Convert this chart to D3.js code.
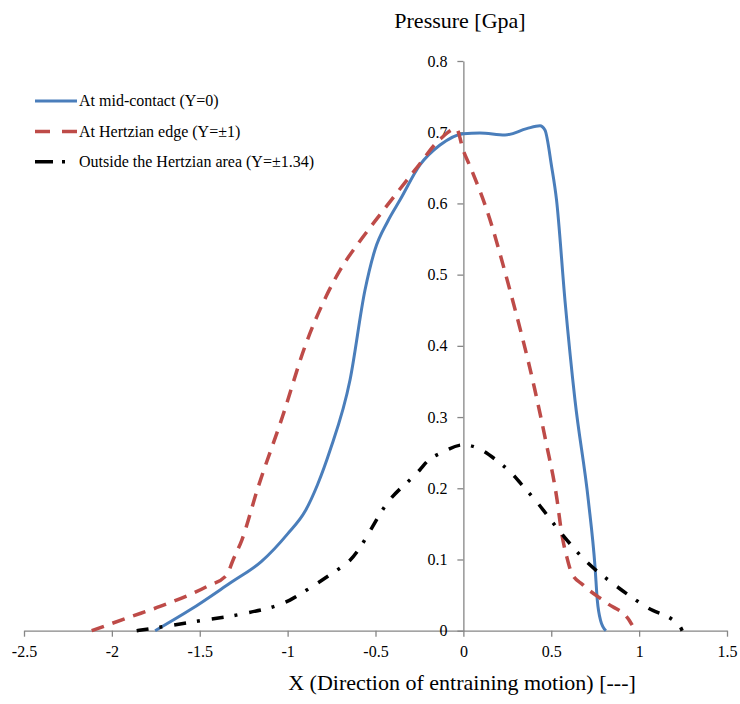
<!DOCTYPE html>
<html>
<head>
<meta charset="utf-8">
<script src="https://cdn.jsdelivr.net/npm/d3@7"></script>
<style>
  body { margin: 0; background: #fff; }
  text { font-family: "Liberation Serif", "Times New Roman", serif; }
</style>
</head>
<body>
<svg id="chart"></svg>
<script>
// X positions and pressure values
const midX = [-1.754, -1.55, -1.327, -1.15, -1.0, -0.9, -0.83, -0.759, -0.645, -0.56, -0.503, -0.43, -0.36, -0.247, -0.133, 0, 0.094, 0.237, 0.36, 0.436, 0.464, 0.502, 0.53, 0.578, 0.635, 0.711, 0.749, 0.762, 0.78, 0.811];
const midP = [0, 0.03, 0.067, 0.097, 0.136, 0.168, 0.205, 0.253, 0.352, 0.478, 0.535, 0.575, 0.605, 0.654, 0.682, 0.698, 0.699, 0.696, 0.705, 0.709, 0.703, 0.652, 0.605, 0.464, 0.324, 0.183, 0.09, 0.043, 0.015, 0];

const edgeX = [-2.115, -1.9, -1.726, -1.46, -1.347, -1.311, -1.261, -1.17, -1.03, -0.9, -0.78, -0.7, -0.58, -0.475, -0.275, -0.133, -0.04, 0, 0.038, 0.133, 0.265, 0.407, 0.47, 0.533, 0.559, 0.588, 0.616, 0.682, 0.815, 0.948, 0.96];
const edgeP = [0, 0.019, 0.034, 0.062, 0.078, 0.099, 0.127, 0.2, 0.3, 0.4, 0.47, 0.507, 0.55, 0.584, 0.647, 0.69, 0.705, 0.674, 0.652, 0.591, 0.478, 0.338, 0.265, 0.184, 0.137, 0.104, 0.081, 0.064, 0.039, 0.013, 0.008];

const outX = [-1.859, -1.7, -1.499, -1.271, -0.987, -0.873, -0.75, -0.645, -0.418, -0.247, -0.209, -0.116, 0, 0.094, 0.19, 0.271, 0.35, 0.417, 0.55, 0.692, 0.863, 1.043, 1.232, 1.245];
const outP = [0, 0.006, 0.014, 0.023, 0.043, 0.06, 0.08, 0.099, 0.184, 0.226, 0.237, 0.251, 0.261, 0.255, 0.239, 0.222, 0.2, 0.181, 0.139, 0.099, 0.064, 0.033, 0.006, 0];

const xTicks = [-2.5, -2, -1.5, -1, -0.5, 0, 0.5, 1, 1.5];
const yTicks = [0, 0.1, 0.2, 0.3, 0.4, 0.5, 0.6, 0.7, 0.8];

const seriesNames = ["At mid-contact (Y=0)", "At Hertzian edge (Y=\u00b11)", "Outside the Hertzian area (Y=\u00b11.34)"];

const width = 740, height = 704;
const svg = d3.select("#chart").attr("width", width).attr("height", height);

const x = d3.scaleLinear().domain([-2.5, 1.5]).range([24, 727]);
const y = d3.scaleLinear().domain([0, 0.8]).range([630.7, 61]);

// x axis along P = 0
const xAxis = svg.append("g")
  .attr("transform", `translate(0,${y(0)})`)
  .call(d3.axisBottom(x).tickValues(xTicks).tickSize(6).tickSizeOuter(0).tickPadding(9).tickFormat(d => String(d)));

// y axis through X = 0
const yAxis = svg.append("g")
  .attr("transform", `translate(${x(0)},0)`)
  .call(d3.axisLeft(y).tickValues(yTicks).tickSize(6).tickSizeOuter(0).tickPadding(10).tickFormat(d => String(d)));

[xAxis, yAxis].forEach(g => {
  g.attr("font-family", "'Liberation Serif', serif").attr("font-size", 16);
  g.selectAll("path, line").attr("stroke", "#868686").attr("stroke-width", 1.3);
  g.selectAll("text").attr("fill", "#000");
});

const line = d3.line()
  .x(d => x(d[0]))
  .y(d => y(d[1]))
  .curve(d3.curveMonotoneX);

const series = [
  { xs: midX, ps: midP, color: "#4a7ebb", width: 3, dash: null },
  { xs: edgeX, ps: edgeP, color: "#be4b48", width: 3.5, dash: "13,9" },
  { xs: outX, ps: outP, color: "#000", width: 3.5, dash: "12,11,3,12" }
];

series.forEach(s => {
  svg.append("path")
    .datum(d3.zip(s.xs, s.ps))
    .attr("d", line)
    .attr("fill", "none")
    .attr("stroke", s.color)
    .attr("stroke-width", s.width)
    .attr("stroke-dasharray", s.dash);
});

// Legend (no frame)
const legendY = [101, 131.5, 161.7];
series.forEach((s, i) => {
  svg.append("line")
    .attr("x1", 35)
    .attr("x2", 77)
    .attr("y1", legendY[i])
    .attr("y2", legendY[i])
    .attr("stroke", s.color)
    .attr("stroke-width", s.width)
    .attr("stroke-dasharray", s.dash ? (i === 1 ? "15,12" : "18,9,3,20") : null);
  svg.append("text")
    .attr("x", 79)
    .attr("y", legendY[i] + 5)
    .attr("font-size", 16)
    .text(seriesNames[i]);
});

// Axis titles
svg.append("text")
  .attr("x", 460)
  .attr("y", 28)
  .attr("text-anchor", "middle")
  .attr("font-size", 22)
  .text("Pressure [Gpa]");

svg.append("text")
  .attr("x", 462)
  .attr("y", 690)
  .attr("text-anchor", "middle")
  .attr("font-size", 22)
  .text("X (Direction of entraining motion) [---]");
</script>
</body>
</html>
